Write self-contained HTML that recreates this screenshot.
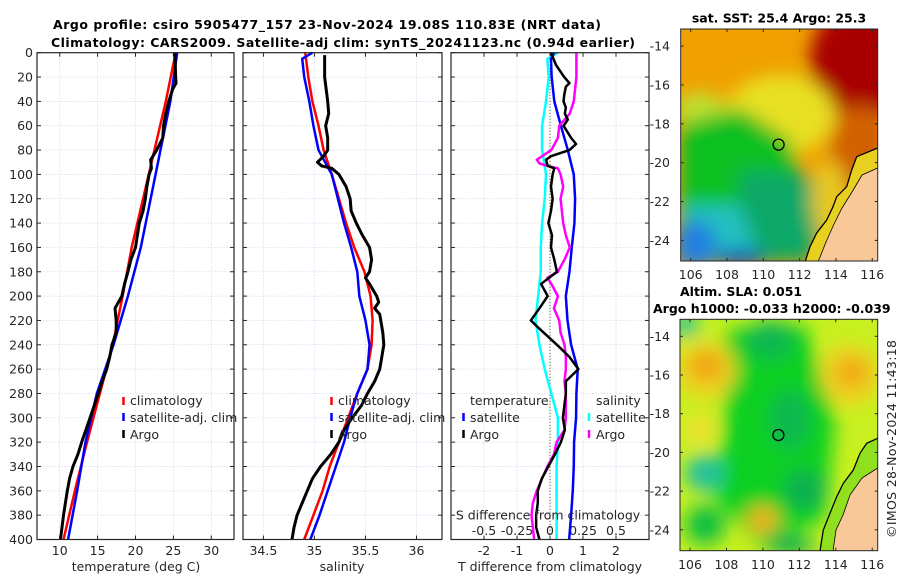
<!DOCTYPE html>
<html><head><meta charset="utf-8">
<style>
html,body{margin:0;padding:0;background:#fff;}
svg{display:block;font-family:"DejaVu Sans","Liberation Sans",sans-serif;}
.t{font-size:12.5px;fill:#262626;}
.tb{font-size:12.5px;font-weight:bold;fill:#000;}
</style></head>
<body>
<svg id="chart" width="900" height="580" xmlns="http://www.w3.org/2000/svg">
<defs>
<clipPath id="cm1"><rect x="680.7" y="29" width="197" height="232"/></clipPath>
<clipPath id="cm2"><rect x="680" y="319.3" width="197.7" height="231.4"/></clipPath>
<filter id="bl" x="-50%" y="-50%" width="200%" height="200%"><feGaussianBlur stdDeviation="9"/></filter>
</defs>
<text class="tb" x="327" y="29" text-anchor="middle" textLength="548">Argo profile: csiro 5905477_157 23-Nov-2024 19.08S 110.83E (NRT data)</text>
<text class="tb" x="343" y="47" text-anchor="middle" textLength="584">Climatology: CARS2009. Satellite-adj clim: synTS_20241123.nc (0.94d earlier)</text>

<!-- SST map -->
<g clip-path="url(#cm1)">
<rect x="680" y="29" width="198" height="232" fill="#f0a000"/>
<g filter="url(#bl)">
<ellipse cx="865" cy="60" rx="55" ry="60" fill="#a80000"/>
<ellipse cx="860" cy="150" rx="30" ry="45" fill="#d06000"/>
<ellipse cx="780" cy="115" rx="55" ry="40" fill="#e8e020"/>
<ellipse cx="700" cy="110" rx="25" ry="18" fill="#c0e030"/>
<polygon points="680,125 705,118 740,108 790,140 805,200 785,240 700,240 680,220" fill="#10c020"/>
<polygon points="740,170 810,175 820,230 810,262 740,262" fill="#10a868"/>
<polygon points="680,205 740,205 760,262 680,262" fill="#20c0c0"/>
<ellipse cx="695" cy="245" rx="22" ry="25" fill="#2080e0"/>
<ellipse cx="740" cy="258" rx="25" ry="8" fill="#1040c0"/>
<ellipse cx="830" cy="200" rx="18" ry="40" fill="#e8c820"/>
</g>
<polygon points="877.7,148 856.7,156.7 851.7,170 846.7,186.7 836.7,196.7 833,206.7 826.7,220 816.7,233 810,246.7 805,262 878,262" fill="#e8d020" stroke="none"/>
<polygon points="877.7,168 862,175 852,192 842,208 834,224 826,242 818,262 878,262" fill="#f8c898"/>
<polyline points="877.7,148 856.7,156.7 851.7,170 846.7,186.7 836.7,196.7 833,206.7 826.7,220 816.7,233 810,246.7 805,262" fill="none" stroke="#000" stroke-width="1.3"/>
<polyline points="877.7,168 862,175 852,192 842,208 834,224 826,242 818,262" fill="none" stroke="#000" stroke-width="0.8"/>
<circle cx="778.6" cy="144.6" r="5.5" fill="none" stroke="#000" stroke-width="1.3"/>
</g>
<rect x="680.7" y="29" width="197" height="232" fill="none" stroke="#262626" stroke-width="1"/>
<text class="tb" x="779" y="22.5" text-anchor="middle">sat. SST: 25.4 Argo: 25.3</text>

<!-- SLA map -->
<g clip-path="url(#cm2)">
<rect x="680" y="319" width="198" height="232" fill="#c8f020"/>
<g filter="url(#bl)">
<polygon points="725,330 805,325 835,420 825,520 760,545 715,500 725,420" fill="#10d020"/>
<ellipse cx="770" cy="340" rx="25" ry="20" fill="#10b850"/>
<ellipse cx="790" cy="420" rx="20" ry="30" fill="#10b850"/>
<ellipse cx="805" cy="490" rx="22" ry="20" fill="#10b050"/>
<ellipse cx="705" cy="525" rx="20" ry="20" fill="#10c040"/>
<ellipse cx="790" cy="545" rx="25" ry="10" fill="#10b050"/>
<ellipse cx="706" cy="370" rx="30" ry="28" fill="#f0d020"/>
<ellipse cx="706" cy="366" rx="16" ry="14" fill="#f0a010"/>
<ellipse cx="850" cy="375" rx="30" ry="30" fill="#f0d020"/>
<ellipse cx="852" cy="372" rx="15" ry="13" fill="#f0a010"/>
<ellipse cx="763" cy="520" rx="16" ry="14" fill="#f0b020"/>
<ellipse cx="705" cy="473" rx="20" ry="18" fill="#20c0a0"/>
<ellipse cx="685" cy="325" rx="15" ry="10" fill="#20c0a0"/>
<ellipse cx="700" cy="430" rx="15" ry="15" fill="#f0e030"/>
</g>
<polygon points="877.7,438.3 866.7,443.3 860,453.3 853.3,470 843.3,483.3 836.7,496.7 830,513.3 823.3,530 820,551 878,551" fill="#90e020"/>
<polygon points="877.7,468 862,478 850,495 843,515 836,530 833,551 878,551" fill="#f8c898"/>
<polyline points="877.7,438.3 866.7,443.3 860,453.3 853.3,470 843.3,483.3 836.7,496.7 830,513.3 823.3,530 820,551" fill="none" stroke="#000" stroke-width="1.3"/>
<polyline points="877.7,468 862,478 850,495 843,515 836,530 833,551" fill="none" stroke="#000" stroke-width="0.8"/>
<circle cx="778.4" cy="435" r="5.5" fill="none" stroke="#000" stroke-width="1.3"/>
</g>
<rect x="680" y="319.3" width="197.7" height="231.4" fill="none" stroke="#262626" stroke-width="1"/>
<text class="tb" x="680" y="296">Altim. SLA: 0.051</text>
<text class="tb" x="653" y="313">Argo h1000: -0.033 h2000: -0.039</text>
<text class="t" transform="translate(896,439) rotate(-90)" text-anchor="middle" textLength="198">©IMOS 28-Nov-2024 11:43:18</text>

<!-- legends -->
<g>
<line x1="123.5" y1="397" x2="123.5" y2="405" stroke="#f00" stroke-width="2.5"/>
<text class="t" x="130" y="405">climatology</text>
<line x1="123.5" y1="413" x2="123.5" y2="421" stroke="#00f" stroke-width="2.5"/>
<text class="t" x="130" y="422">satellite-adj. clim</text>
<line x1="123.5" y1="430" x2="123.5" y2="438" stroke="#000" stroke-width="2.5"/>
<text class="t" x="130" y="439">Argo</text>
</g>
<g>
<line x1="331.5" y1="397" x2="331.5" y2="405" stroke="#f00" stroke-width="2.5"/>
<text class="t" x="338" y="405">climatology</text>
<line x1="331.5" y1="413" x2="331.5" y2="421" stroke="#00f" stroke-width="2.5"/>
<text class="t" x="338" y="422">satellite-adj. clim</text>
<line x1="331.5" y1="430" x2="331.5" y2="438" stroke="#000" stroke-width="2.5"/>
<text class="t" x="338" y="439">Argo</text>
</g>
<g>
<text class="t" x="470" y="405">temperature</text>
<line x1="463.5" y1="413" x2="463.5" y2="421" stroke="#00f" stroke-width="2.5"/>
<text class="t" x="470" y="422">satellite</text>
<line x1="463.5" y1="430" x2="463.5" y2="438" stroke="#000" stroke-width="2.5"/>
<text class="t" x="470" y="439">Argo</text>
<text class="t" x="596" y="405">salinity</text>
<line x1="589" y1="413" x2="589" y2="421" stroke="#00ffff" stroke-width="2.5"/>
<text class="t" x="596" y="422">satellite</text>
<line x1="589" y1="430" x2="589" y2="438" stroke="#ff00ff" stroke-width="2.5"/>
<text class="t" x="596" y="439">Argo</text>
</g>
<text class="t" x="548" y="519.5" text-anchor="middle">S difference from climatology</text>
<text class="t" x="136" y="571" text-anchor="middle">temperature (deg C)</text>
<text class="t" x="342" y="571" text-anchor="middle">salinity</text>
<text class="t" x="550" y="571" text-anchor="middle">T difference from climatology</text>
</svg>

<script>
// ---- depth axis ----
const depthTicks = [0,20,40,60,80,100,120,140,160,180,200,220,240,260,280,300,320,340,360,380,400];
// ---- panel 1: temperature ----
const tempTicks = [10,15,20,25,30];
const tempArgoDepth = [0,20,25,30,40,50,60,70,80,88,95,100,110,120,130,140,160,170,180,190,200,210,220,230,240,250,260,270,280,300,320,330,340,350,360,370,380,390,400];
const tempArgo = [25.2,25.3,25.35,24.9,24.4,24.0,23.7,23.6,22.8,22.0,22.1,21.8,21.5,21.3,21.0,20.5,20.0,19.4,19.0,18.55,18.2,17.3,17.45,17.45,16.9,16.6,16.2,15.6,15.1,14.0,12.9,12.4,11.75,11.3,11.0,10.75,10.5,10.3,10.1];
const tempClimDepth = [0,40,80,120,160,200,240,280,320,360,400];
const tempClim = [25.3,24.0,22.5,21.0,19.5,18.3,17.0,15.3,13.6,12.0,10.5];
const tempSat = [25.5,24.6,23.3,22.0,20.7,19.0,17.1,14.9,13.4,12.3,11.1];
// ---- panel 2: salinity ----
const salTicks = [34.5,35,35.5,36];
const salTickLabels = ["34.5","35","35.5","36"];
const salArgoDepth = [2,20,40,50,60,70,80,85,90,93,95,100,110,120,130,140,150,160,170,180,185,190,200,205,210,215,230,240,250,260,270,280,290,300,310,320,330,340,350,360,370,380,390,400];
const salArgo = [35.10,35.10,35.13,35.14,35.11,35.13,35.13,35.09,35.03,35.07,35.17,35.24,35.31,35.35,35.36,35.41,35.47,35.54,35.56,35.54,35.50,35.54,35.61,35.63,35.59,35.64,35.67,35.68,35.66,35.64,35.59,35.52,35.46,35.37,35.29,35.24,35.16,35.06,34.98,34.93,34.88,34.83,34.80,34.78];
const salClimDepth = [0,20,40,60,80,100,120,140,160,180,200,220,240,260,280,300,320,340,360,380,400];
const salClim = [34.91,34.94,34.98,35.04,35.09,35.17,35.24,35.31,35.39,35.49,35.55,35.57,35.56,35.52,35.42,35.33,35.24,35.15,35.08,34.99,34.90];
const salSatDepth = [0,5,20,40,60,80,100,120,140,160,180,200,220,240,260,280,300,320,340,360,380,400];
const salSat = [34.98,34.88,34.90,34.95,34.99,35.04,35.17,35.23,35.29,35.36,35.42,35.44,35.50,35.54,35.52,35.42,35.35,35.29,35.21,35.13,35.05,34.96];
// ---- panel 3: differences ----
const tdiffTicks = [-2,-1,0,1,2];
const sdiffTicks = [-0.5,-0.25,0,0.25,0.5];
const diffSatDepth = [0,5,20,40,60,80,100,120,140,160,180,200,220,240,260,280,300,320,340,360,380,400];
const tdiffSat = [0.13,0.03,0.05,0.13,0.33,0.54,0.72,0.76,0.74,0.66,0.59,0.48,0.53,0.64,0.84,0.80,0.79,0.73,0.72,0.69,0.64,0.58];
const sdiffSat = [0.06,-0.02,-0.01,-0.03,-0.06,-0.06,-0.03,-0.04,-0.06,-0.07,-0.07,-0.09,-0.11,-0.08,-0.04,0.01,0.06,0.06,0.05,0.05,0.05,0.05];
const tdiffArgoDepth = [0,10,20,25,28,35,40,45,50,55,60,70,75,80,85,88,93,95,100,110,120,130,140,150,160,170,180,190,200,210,220,225,240,250,260,270,280,300,310,320,330,340,350,360,370,380,390,400];
const tdiffArgo = [0.03,0.18,0.43,0.59,0.48,0.43,0.41,0.48,0.45,0.54,0.41,0.64,0.79,0.59,0.03,-0.12,-0.07,0.13,0.08,0.03,0.08,0.03,-0.05,0.06,0.03,0.13,0.21,-0.27,-0.07,-0.32,-0.58,-0.39,0.21,0.59,0.86,0.48,0.48,0.39,0.45,0.33,0.15,-0.05,-0.25,-0.37,-0.37,-0.42,-0.42,-0.32];
const sdiffArgoDepth = [0,20,40,50,55,60,70,80,85,88,91,93,95,100,110,120,140,150,160,170,180,185,190,200,210,220,230,240,250,260,270,280,300,310,320,330,340,350,360,370,380,390,400];
const sdiffArgo = [0.20,0.20,0.18,0.15,0.11,0.07,0.06,0.01,-0.06,-0.10,-0.08,-0.02,0.06,0.08,0.10,0.08,0.10,0.12,0.15,0.11,0.06,-0.02,0.01,0.06,0.03,0.07,0.08,0.11,0.12,0.12,0.11,0.12,0.12,0.11,0.05,0.03,-0.02,-0.06,-0.10,-0.13,-0.14,-0.13,-0.12];
// ---- maps ----
const lonTicks = [106,108,110,112,114,116];
const latTicks = [-14,-16,-18,-20,-22,-24];

const NS = "http://www.w3.org/2000/svg";
const svg = document.getElementById("chart");
function mk(tag, attrs, parent){
  const e = document.createElementNS(NS, tag);
  for (const k in attrs) e.setAttribute(k, attrs[k]);
  (parent||svg).appendChild(e);
  return e;
}
const Y0 = 52.7, Y1 = 539.5;
function yScale(d){ return Y0 + (d/400)*(Y1-Y0); }
function xScaleFn(x0,x1,mn,mx){ return v => x0 + (v-mn)/(mx-mn)*(x1-x0); }

const panels = [
  {name:"temperature", x0:37, x1:234, sx:xScaleFn(37,234,7,33), ticks:tempTicks, labels:tempTicks.map(String)},
  {name:"salinity", x0:243, x1:442, sx:xScaleFn(243,442,34.3,36.25), ticks:salTicks, labels:salTickLabels},
  {name:"difference", x0:451, x1:649, sx:xScaleFn(451,649,-3,3), ticks:tdiffTicks, labels:tdiffTicks.map(String)}
];
const sdx = xScaleFn(451,649,-0.75,0.75);

const root = mk("g", {});


svg.insertBefore(root, svg.children[1]);

panels.forEach((p, pi) => {
  const g = mk("g", {}, root);
  
  
  mk("rect", {x:p.x0, y:Y0, width:p.x1-p.x0, height:Y1-Y0, fill:"#fff"}, g);
  depthTicks.forEach(d => {
    const gl = mk("line", {x1:p.x0, x2:p.x1, y1:yScale(d), y2:yScale(d), stroke:"#d2d4ee", "stroke-width":0.7, "stroke-dasharray":"1.5,1.5"}, g);
    
    
  });
  p.ticks.forEach(t => {
    const gl = mk("line", {x1:p.sx(t), x2:p.sx(t), y1:Y0, y2:Y1, stroke:"#d2d4ee", "stroke-width":0.7, "stroke-dasharray":"1.5,1.5"}, g);
    
    
  });
  depthTicks.forEach(d => {
    mk("line", {x1:p.x0, x2:p.x0+4, y1:yScale(d), y2:yScale(d), stroke:"#262626", "stroke-width":1}, g);
    mk("line", {x1:p.x1-4, x2:p.x1, y1:yScale(d), y2:yScale(d), stroke:"#262626", "stroke-width":1}, g);
  });
  p.ticks.forEach((t, i) => {
    mk("line", {x1:p.sx(t), x2:p.sx(t), y1:Y0, y2:Y0+4, stroke:"#262626", "stroke-width":1}, g);
    mk("line", {x1:p.sx(t), x2:p.sx(t), y1:Y1-4, y2:Y1, stroke:"#262626", "stroke-width":1}, g);
    const tl = mk("text", {x:p.sx(t), y:555, "text-anchor":"middle", class:"t"}, g);
    tl.textContent = p.labels[i];
    
    
  });
  if (pi === 0) {
    depthTicks.forEach(d => {
      const yl = mk("text", {x:33, y:yScale(d)+4.5, "text-anchor":"end", class:"t"}, g);
      yl.textContent = String(d);
      
      
    });
  }
  if (pi === 2) {
    const zl = mk("line", {x1:p.sx(0), x2:p.sx(0), y1:Y0, y2:Y1, stroke:"#556b2f", "stroke-width":1.2, "stroke-dasharray":"1,2"}, g);
    
    
    sdiffTicks.forEach(s => {
      const sl = mk("text", {x:sdx(s), y:535, "text-anchor":"middle", class:"t"}, g);
      sl.textContent = String(s);
      
      
    });
  }
  p.g = g;
});

function drawLine(p, sx, vals, depths, color, w, name){
  const pts = vals.map((v,i) => sx(v).toFixed(2) + "," + yScale(depths[i]).toFixed(2)).join(" ");
  const pl = mk("polyline", {points:pts, fill:"none", stroke:color, "stroke-width":w, "stroke-linejoin":"round"}, p.g);
  
  
}
const P1 = panels[0], P2 = panels[1], P3 = panels[2];
drawLine(P1, P1.sx, tempClim, tempClimDepth, "#ff0000", 2.5, "temp-climatology-line");
drawLine(P1, P1.sx, tempSat, tempClimDepth, "#0000ff", 2.5, "temp-satellite-line");
drawLine(P1, P1.sx, tempArgo, tempArgoDepth, "#000000", 3, "temp-argo-line");
drawLine(P2, P2.sx, salClim, salClimDepth, "#ff0000", 2.5, "sal-climatology-line");
drawLine(P2, P2.sx, salSat, salSatDepth, "#0000ff", 2.5, "sal-satellite-line");
drawLine(P2, P2.sx, salArgo, salArgoDepth, "#000000", 3, "sal-argo-line");
drawLine(P3, sdx, sdiffSat, diffSatDepth, "#00ffff", 2.5, "sdiff-satellite-line");
drawLine(P3, P3.sx, tdiffSat, diffSatDepth, "#0000ff", 2.5, "tdiff-satellite-line");
drawLine(P3, sdx, sdiffArgo, sdiffArgoDepth, "#ff00ff", 2.5, "sdiff-argo-line");
drawLine(P3, P3.sx, tdiffArgo, tdiffArgoDepth, "#000000", 2.5, "tdiff-argo-line");

panels.forEach(p => {
  const fr = mk("rect", {x:p.x0, y:Y0, width:p.x1-p.x0, height:Y1-Y0, fill:"none", stroke:"#262626", "stroke-width":1.2}, p.g);
  
  
});

const maps = [
  {x0:680.7, x1:877.7, y0:29, y1:261, lon0:105.45, lon1:116.3, lat0:-13.12, lat1:-25.06, ly:279},
  {x0:680, x1:877.7, y0:319.3, y1:550.7, lon0:105.45, lon1:116.3, lat0:-13.12, lat1:-25.08, ly:569}
];
maps.forEach(m => {
  const lx = v => m.x0 + (v-m.lon0)/(m.lon1-m.lon0)*(m.x1-m.x0);
  const ly = v => m.y0 + (v-m.lat0)/(m.lat1-m.lat0)*(m.y1-m.y0);
  lonTicks.forEach(t => {
    mk("line", {x1:lx(t), x2:lx(t), y1:m.y0, y2:m.y0+3, stroke:"#262626"});
    mk("line", {x1:lx(t), x2:lx(t), y1:m.y1-3, y2:m.y1, stroke:"#262626"});
    const tl = mk("text", {x:lx(t), y:m.ly, "text-anchor":"middle", class:"t"});
    tl.textContent = String(t);
    
    
  });
  latTicks.forEach(t => {
    mk("line", {x1:m.x0, x2:m.x0+3, y1:ly(t), y2:ly(t), stroke:"#262626"});
    mk("line", {x1:m.x1-3, x2:m.x1, y1:ly(t), y2:ly(t), stroke:"#262626"});
    const tl = mk("text", {x:670, y:ly(t)+4.5, "text-anchor":"end", class:"t"});
    tl.textContent = String(t);
    
    
  });
});
</script>
</body></html>
